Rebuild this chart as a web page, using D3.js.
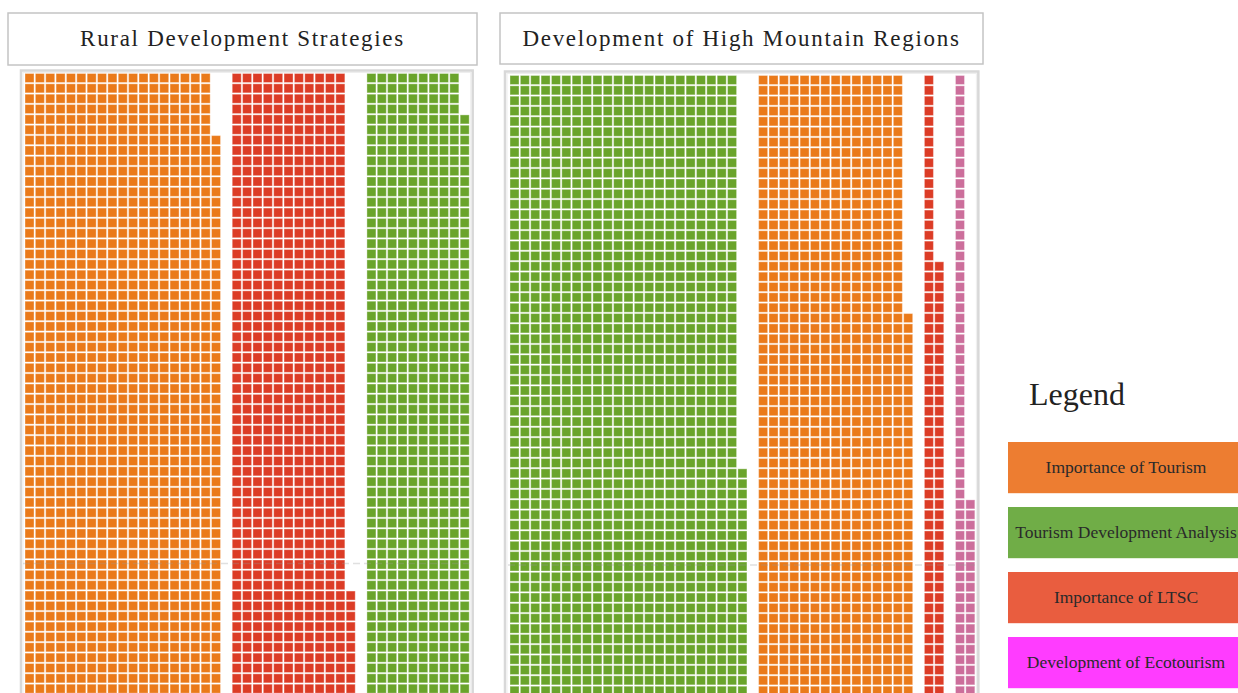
<!DOCTYPE html>
<html>
<head>
<meta charset="utf-8">
<script src="https://cdn.jsdelivr.net/npm/d3@7"></script>
<style>
  html, body { margin: 0; padding: 0; overflow: hidden; background: #fff; }
  svg { display: block; }
</style>
</head>
<body>
<svg id="chart" width="1238" height="693"></svg>
<script>
// ---- data ----------------------------------------------------------
const panelTitles = ["Rural Development Strategies", "Development of High Mountain Regions"];

// units per category, one square per unit
const ruralCategories = ["Importance of Tourism", "Importance of LTSC", "Tourism Development Analysis"];
const ruralCounts = [1210, 718, 636];

const mountainCategories = ["Tourism Development Analysis", "Importance of Tourism", "Importance of LTSC", "Development of Ecotourism"];
const mountainCounts = [1434, 937, 110, 87];

// squares stacked in each waffle column
const rowsPerColumn = 64;

const legendLabels = ["Importance of Tourism", "Tourism Development Analysis", "Importance of LTSC", "Development of Ecotourism"];

// ---- styles --------------------------------------------------------
const squareColor = {
  "Importance of Tourism": "#ea7a1a",
  "Importance of LTSC": "#dc3c26",
  "Tourism Development Analysis": "#6aa42b",
  "Development of Ecotourism": "#cc6e9b"
};
const legendColor = {
  "Importance of Tourism": "#ed7d31",
  "Tourism Development Analysis": "#70ad47",
  "Importance of LTSC": "#e95d3f",
  "Development of Ecotourism": "#ff3cff"
};

const serif = "'Liberation Serif', 'Times New Roman', serif";
const pitch = 10.33;

const panels = [
  { title: panelTitles[0], cats: ruralCategories, counts: ruralCounts,
    titleBox: [8, 13, 469, 52], frameX: 21, frameY: 70.5, x0: 25, y0: 73.5, gridY: 563.5 },
  { title: panelTitles[1], cats: mountainCategories, counts: mountainCounts,
    titleBox: [500, 13, 483, 51], frameX: 505, frameY: 71.5, x0: 510, y0: 75.5, gridY: 565 }
];

const svg = d3.select("#chart");

panels.forEach(p => {
  // lay categories out column by column, one empty column between groups
  const cells = [];
  let col = 0;
  p.cats.forEach((cat, ci) => {
    const n = p.counts[ci];
    for (let i = 0; i < n; i++) {
      cells.push({ cat, col: col + Math.floor(i / rowsPerColumn), row: rowsPerColumn - 1 - (i % rowsPerColumn) });
    }
    col += Math.ceil(n / rowsPerColumn) + 1;
  });
  const nCols = col - 1;

  const x = d3.scaleBand().domain(d3.range(nCols))
    .range([p.x0, p.x0 + nCols * pitch]).paddingInner(0.13).paddingOuter(0);
  const y = d3.scaleBand().domain(d3.range(rowsPerColumn))
    .range([p.y0, p.y0 + rowsPerColumn * pitch]).paddingInner(0.13).paddingOuter(0);

  const g = svg.append("g");

  // title box
  const [tx, ty, tw, th] = p.titleBox;
  g.append("rect").attr("x", tx).attr("y", ty).attr("width", tw).attr("height", th)
    .attr("fill", "#fff").attr("stroke", "#c4c4c4").attr("stroke-width", 1.5);
  g.append("text").attr("x", tx + tw / 2).attr("y", ty + 33)
    .attr("text-anchor", "middle")
    .style("font-family", serif).style("font-size", "23px")
    .style("letter-spacing", "1.7px").attr("fill", "#222")
    .text(p.title);

  // plot frame
  const frameRight = x.range()[1] + 3.5;
  g.append("rect").attr("x", p.frameX).attr("y", p.frameY)
    .attr("width", frameRight - p.frameX).attr("height", 700)
    .attr("fill", "#fff").attr("stroke", "#d8d8d8").attr("stroke-width", 2.5);
  g.append("rect").attr("x", p.frameX + 2).attr("y", p.frameY + 2)
    .attr("width", frameRight - p.frameX - 4).attr("height", 700)
    .attr("fill", "none").attr("stroke", "#eeeeee").attr("stroke-width", 1);

  // waffle squares
  g.append("g").selectAll("rect").data(cells).join("rect")
    .attr("x", d => x(d.col)).attr("y", d => y(d.row))
    .attr("width", x.bandwidth()).attr("height", y.bandwidth())
    .attr("fill", d => squareColor[d.cat])
    .attr("stroke", "rgba(255,255,255,0.35)").attr("stroke-width", 1);

  // faint dashed reference line
  g.append("line").attr("x1", p.x0 - 2).attr("x2", x.range()[1])
    .attr("y1", p.gridY).attr("y2", p.gridY)
    .attr("stroke", "#999").attr("stroke-opacity", 0.3)
    .attr("stroke-width", 1.5).attr("stroke-dasharray", "7,4");
});

// ---- legend --------------------------------------------------------
const legend = svg.append("g");
legend.append("text").attr("x", 1029).attr("y", 405)
  .style("font-family", serif).style("font-size", "32px").attr("fill", "#222")
  .text("Legend");

const legendStep = 65;
const legendPad = 0.22;
const ly = d3.scaleBand().domain(legendLabels)
  .range([442, 442 + legendStep * (legendLabels.length - legendPad)])
  .paddingInner(legendPad).paddingOuter(0);
const items = legend.selectAll("g.item").data(legendLabels).join("g").attr("class", "item")
  .attr("transform", d => `translate(1008,${ly(d)})`);
items.append("rect").attr("width", 230).attr("height", ly.bandwidth() + 0.5)
  .attr("fill", d => legendColor[d]);
items.append("text").attr("x", 118).attr("y", ly.bandwidth() / 2).attr("dy", "0.35em")
  .attr("text-anchor", "middle")
  .style("font-family", serif).style("font-size", "17.5px").attr("fill", "#2a2a2a")
  .text(d => d);
</script>
</body>
</html>
